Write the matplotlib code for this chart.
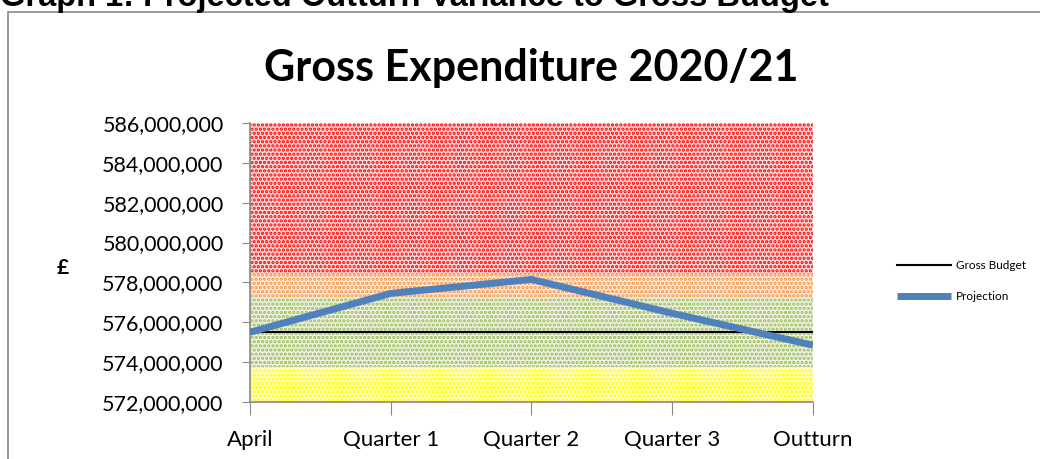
import matplotlib.pyplot as plt
import matplotlib.ticker as ticker
from matplotlib.patches import Rectangle

plt.rcParams["font.family"] = ["Lato", "DejaVu Sans"]
plt.rcParams["hatch.linewidth"] = 1.6

# data
periods = ["April", "Quarter 1", "Quarter 2", "Quarter 3", "Outturn"]
gross_budget = [575500000, 575500000, 575500000, 575500000, 575500000]
projection = [575500000, 577450000, 578150000, 576450000, 574850000]

# background tolerance bands (top of each band)
band_tops = [573770000, 577230000, 578400000, 586000000]
band_colors = ["#ffff00", "#9bbb59", "#f79646", "#ff0000"]
band_faces = ["#fffbd0", "#eef3e2", "#fde9da", "#ffdada"]

fig = plt.figure(figsize=(10.4, 4.59), dpi=100)
ax = fig.add_axes([0.2404, 0.1242, 0.5413, 0.6078])

x = range(len(periods))
# 背景色带
bottom = 572000000
for top, c, fc in zip(band_tops, band_colors, band_faces):
    ax.fill_between([0, len(periods) - 1], bottom, top, facecolor=fc,
                    edgecolor=c, hatch="....", linewidth=0, zorder=1)
    bottom = top

ax.plot(x, gross_budget, color="black", linewidth=1.5, label="Gross Budget", zorder=3)
ax.plot(x, projection, color="#4f81bd", linewidth=5, label="Projection",
        solid_capstyle="butt", zorder=4)

ax.set_xlim(0, len(periods) - 1)
ax.set_ylim(572000000, 586000000)
ax.set_yticks(range(572000000, 586000001, 2000000))
ax.yaxis.set_major_formatter(ticker.FuncFormatter(lambda v, p: "{:,.0f}".format(v)))
ax.set_xticks(list(x))
ax.set_xticklabels(periods)

for s in ["top", "right"]:
    ax.spines[s].set_visible(False)
for s in ["left", "bottom"]:
    ax.spines[s].set_color("#888888")
    ax.spines[s].set_linewidth(1.2)
ax.tick_params(axis="y", direction="out", length=6, color="#888888", labelsize=15.5, pad=13)
ax.tick_params(axis="x", direction="out", length=9, color="#888888", labelsize=16, pad=11)

ax.set_title("Gross Expenditure 2020/21", fontsize=31, fontweight="bold", pad=30)
fig.text(0.060, 0.416, "£", fontsize=15, fontweight="bold", ha="center", va="center")

ax.legend(loc="center left", bbox_to_anchor=(1.13, 0.434), frameon=False,
          fontsize=8.5, handlelength=4.6, labelspacing=1.7, handletextpad=0.4)

# 外框和标题
fig.patches.append(Rectangle((8 / 1040, -0.1), 1.2, 1 - 12 / 459 + 0.1,
                             transform=fig.transFigure, fill=False,
                             edgecolor="#888888", linewidth=1.2))
fig.text(0.0, 1 - 6 / 459, "Graph 1: Projected Outturn Variance to Gross Budget",
         family="Liberation Sans", fontsize=23.5, fontweight="bold", va="baseline")

plt.savefig("out.png")
